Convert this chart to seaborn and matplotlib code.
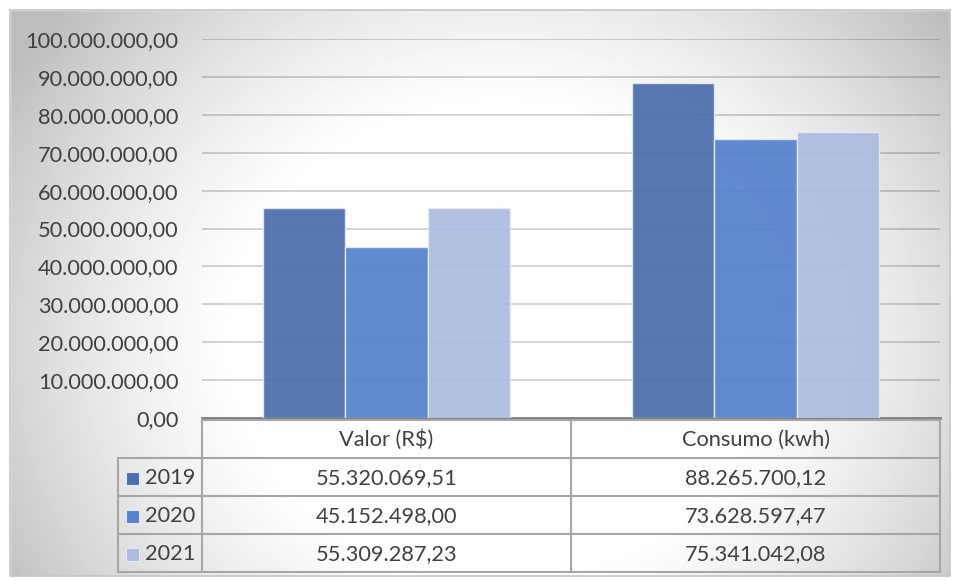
import numpy as np
import pandas as pd
import matplotlib
matplotlib.use("Agg")
import matplotlib.pyplot as plt
import matplotlib.transforms as mtransforms
from matplotlib.ticker import FuncFormatter
import seaborn as sns

categories = ["Valor (R$)", "Consumo (kwh)"]
years = ["2019", "2020", "2021"]
values_2019 = [55320069.51, 88265700.12]
values_2020 = [45152498.00, 73628597.47]
values_2021 = [55309287.23, 75341042.08]
colors = ["#4C6EAA", "#5681CC", "#ADBBDF"]

series = {"2019": values_2019, "2020": values_2020, "2021": values_2021}
df = pd.DataFrame([(c, y, series[y][i]) for y in years for i, c in enumerate(categories)],
                  columns=["cat", "year", "val"])

def br(v, dec=2):
    s = f"{v:,.{dec}f}"
    return s.replace(",", "X").replace(".", ",").replace("X", ".")

sns.set_theme(style="white")
plt.rcParams["font.family"] = ["Lato", "DejaVu Sans"]
FS = 15.7

W, H = 957, 581
fig = plt.figure(figsize=(W / 100, H / 100), dpi=100)

# background gradient
bg = fig.add_axes([0, 0, 1, 1], zorder=-10)
yy, xx = np.mgrid[0:H, 0:W]
cx, cy = 500, 340
val = 1.07 - 0.22 * ((xx - cx) / 470.0) ** 2 - 0.14 * ((yy - cy) / 330.0) ** 2
val = np.clip(val, 0.74, 1.0)
bg.imshow(val, cmap="gray", vmin=0, vmax=1, extent=[0, W, H, 0], aspect="auto")
bg.set_xlim(0, W); bg.set_ylim(H, 0); bg.axis("off")
bg.add_patch(plt.Rectangle((0, 0), W, 10, color="white", zorder=2))
bg.add_patch(plt.Rectangle((0, 0), 10, H, color="white", zorder=2))
bg.add_patch(plt.Rectangle((0, 576), W, 10, color="white", zorder=2))
bg.add_patch(plt.Rectangle((950, 0), 10, H, color="white", zorder=2))
bg.add_patch(plt.Rectangle((10, 10), 940, 566, fill=False, ec="#C4C4C4", lw=1.2, zorder=3))

x0, x1, y0, y1 = 202, 940, 418, 39
ax = fig.add_axes([x0 / W, 1 - y0 / H, (x1 - x0) / W, (y0 - y1) / H])
ax.patch.set_alpha(0)
sns.barplot(data=df, x="cat", y="val", hue="year", palette=colors, width=0.667,
            saturation=1, ax=ax, alpha=0.93, edgecolor="#E4E9F3", linewidth=1.0,
            legend=False, zorder=3)
ax.set_ylim(0, 100_000_000)
ax.set_xlim(-0.5, 1.5)
ax.set_yticks(np.arange(0, 100_000_001, 10_000_000))
ax.yaxis.set_major_formatter(FuncFormatter(lambda v, p: br(v)))
ax.yaxis.grid(True, color="#000000", alpha=0.2, lw=1.2, zorder=0)
ax.set_axisbelow(True)
ax.set_xlabel(""); ax.set_ylabel("")
ax.set_xticks([])
for s in ["top", "right", "left"]:
    ax.spines[s].set_visible(False)
ax.spines["bottom"].set_color("#808080")
ax.spines["bottom"].set_linewidth(2.0)
ax.tick_params(axis="y", length=0, pad=17, labelsize=FS, labelcolor="#404040")

# data table
tr = mtransforms.blended_transform_factory(ax.transData, fig.transFigure)
trp = fig.transFigure
def fy(p):
    return 1 - p / H
line_kw = dict(color="#A6A6A6", lw=1.5, transform=trp, zorder=5)
rows_y = [420, 458, 496, 534, 572]
left_x, col_x = 118, [202, 571, 940]
fig.add_artist(plt.Line2D([col_x[0] / W, col_x[-1] / W], [fy(420), fy(420)], **line_kw))
for yv in rows_y[1:]:
    fig.add_artist(plt.Line2D([left_x / W, col_x[-1] / W], [fy(yv), fy(yv)], **line_kw))
fig.add_artist(plt.Line2D([left_x / W, left_x / W], [fy(458), fy(572)], **line_kw))
for xv in col_x:
    fig.add_artist(plt.Line2D([xv / W, xv / W], [fy(420), fy(572)], **line_kw))

txt_kw = dict(fontsize=FS, color="#404040", ha="center", va="center")
for i, c in enumerate(categories):
    fig.text(i, fy(440), c.replace("$", r"\$"), transform=tr, **txt_kw)
for j, y in enumerate(years):
    yc = fy((rows_y[j + 1] + rows_y[j + 2]) / 2 + 1)
    for i in range(len(categories)):
        fig.text(i, yc, br(series[y][i]), transform=tr, **txt_kw)
    fig.add_artist(plt.Rectangle(((left_x + 8) / W, yc - 6.5 / H), 13 / W, 13 / H,
                                 transform=trp, color=colors[j], ec="#E4E9F3", lw=0.8))
    fig.text((left_x + 27) / W, yc, y, transform=trp, fontsize=FS, color="#404040",
             ha="left", va="center")

fig.savefig("out.png", dpi=100)
